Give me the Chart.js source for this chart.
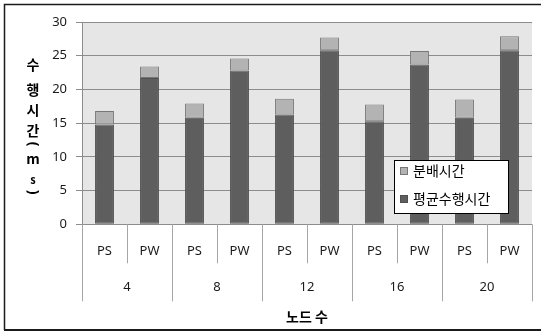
<!DOCTYPE html>
<html><head><meta charset="utf-8">
<script src="https://cdn.jsdelivr.net/npm/chart.js@4/dist/chart.umd.min.js"></script>
<style>html,body{margin:0;padding:0;background:#fff;overflow:hidden}
#wrap{position:absolute;left:0;top:0;width:541px;height:331px}
</style></head><body><div id="wrap"><canvas id="c" width="541" height="331"></canvas></div>
<script>
// ---- data ----
const categories = ['PS','PW','PS','PW','PS','PW','PS','PW','PS','PW'];
const groups = ['4','8','12','16','20'];
const avgExecTime = [14.8,21.7,15.8,22.8,16.3,25.8,15.3,23.7,15.8,25.8];
const distTime = [2.0,1.7,2.1,1.8,2.3,1.9,2.45,2.0,2.7,2.1];
const seriesNames = ['평균수행시간','분배시간'];
const yTitleChars = ['수','행','시','간','(','m','s',')'];
const xTitle = '노드 수';

const FONT = "'Noto Sans', 'DejaVu Sans', sans-serif";
const KFONT = "'Noto Sans CJK KR', 'Noto Sans', sans-serif";
const GRID = '#8c8c8c';
const SEP = '#a6a6a6';

const bgPlugin = {
  id: 'bg',
  beforeDraw(chart) {
    const {ctx, chartArea: a} = chart;
    ctx.save();
    ctx.fillStyle = '#e6e6e6';
    ctx.fillRect(a.left, a.top, a.right - a.left, a.bottom - a.top);
    ctx.restore();
  }
};

const decoPlugin = {
  id: 'deco',
  afterDraw(chart) {
    const {ctx, chartArea: a} = chart;
    const xs = chart.scales.x;
    ctx.save();
    // separators
    const half = (xs.getPixelForValue(1) - xs.getPixelForValue(0)) / 2;
    ctx.strokeStyle = SEP;
    ctx.lineWidth = 1;
    for (let b = 0; b <= categories.length; b++) {
      const xp = b < categories.length ? xs.getPixelForValue(b) - half : xs.getPixelForValue(categories.length - 1) + half;
      const x = Math.round(xp) + 0.5;
      const yEnd = (b % 2 === 0) ? a.bottom + 77 : a.bottom + 39;
      ctx.beginPath();
      ctx.moveTo(x, a.bottom);
      ctx.lineTo(x, yEnd);
      ctx.stroke();
    }
    // group labels
    ctx.fillStyle = '#1a1a1a';
    ctx.font = '13px ' + FONT;
    ctx.textAlign = 'center';
    ctx.textBaseline = 'middle';
    groups.forEach((g, i) => {
      const cx = (xs.getPixelForValue(2 * i) + xs.getPixelForValue(2 * i + 1)) / 2;
      ctx.fillText(g, cx, a.bottom + 63);
    });
    // y title stacked
    ctx.fillStyle = '#000';
    const offs = [0, 25, 45, 66, 79, 94, 115, 127];
    yTitleChars.forEach((ch, i) => {
      const y = 65 + offs[i];
      if (ch === '(' || ch === ')') {
        ctx.save();
        ctx.translate(33, y);
        ctx.rotate(Math.PI / 2);
        ctx.font = 'bold 14px ' + FONT;
        ctx.fillText(ch, 0, 0);
        ctx.restore();
        return;
      }
      ctx.font = (ch === 's' ? 'bold 11px ' : 'bold 14px ') + KFONT;
      ctx.fillText(ch, 33, y);
    });
    // legend
    const lx = a.right - 138, ly = a.top + 138, lw = 114, lh = 53;
    ctx.fillStyle = '#fff';
    ctx.fillRect(lx, ly, lw, lh);
    ctx.strokeStyle = '#000';
    ctx.lineWidth = 1;
    ctx.strokeRect(Math.round(lx) + 0.5, Math.round(ly) + 0.5, lw, lh);
    const order = [1, 0];
    order.forEach((di, k) => {
      const ds = chart.data.datasets[di];
      const cy = ly + 11 + k * 28;
      ctx.fillStyle = ds.backgroundColor;
      ctx.fillRect(lx + 6, cy - 4, 8, 8);
      ctx.strokeStyle = ds.borderColor;
      ctx.strokeRect(lx + 6.5, cy - 3.5, 7, 7);
      ctx.fillStyle = '#000';
      ctx.font = '14px ' + KFONT;
      ctx.textAlign = 'left';
      ctx.fillText(ds.label, lx + 19, cy);
    });
    // frame
    ctx.strokeStyle = '#1a1a1a';
    ctx.lineWidth = 1.5;
    ctx.beginPath();
    ctx.moveTo(4.5, 330); ctx.lineTo(4.5, 4.5); ctx.lineTo(541, 4.5);
    ctx.stroke();
    ctx.lineWidth = 2;
    ctx.beginPath();
    ctx.moveTo(4, 330); ctx.lineTo(541, 330);
    ctx.stroke();
    ctx.restore();
  }
};

new Chart(document.getElementById('c'), {
  type: 'bar',
  data: {
    labels: categories,
    datasets: [
      { label: seriesNames[0], data: avgExecTime, backgroundColor: '#5e5e5e', borderColor: '#4f4f4f', borderWidth: 1, borderSkipped: false },
      { label: seriesNames[1], data: distTime, backgroundColor: '#b3b3b3', borderColor: '#777777', borderWidth: 1, borderSkipped: false }
    ]
  },
  options: {
    responsive: false,
    devicePixelRatio: 1,
    animation: false,
    layout: { padding: { left: 0, right: 9, top: 22, bottom: 4 } },
    datasets: { bar: { barPercentage: 0.42, categoryPercentage: 1 } },
    plugins: { legend: { display: false }, tooltip: { enabled: false } },
    scales: {
      x: {
        stacked: true,
        grid: { display: false, drawTicks: false },
        border: { display: false },
        ticks: { padding: 19, color: '#1a1a1a', font: { family: FONT, size: 13 } },
        title: { display: true, text: xTitle, color: '#000', font: { family: KFONT, size: 14, weight: 'bold' }, padding: { top: 0, bottom: 2 } },
        afterFit(s) { s.height = 102.7; }
      },
      y: {
        stacked: true,
        min: 0, max: 30,
        ticks: { stepSize: 5, padding: 9, color: '#1a1a1a', font: { family: FONT, size: 13 } },
        grid: { color: GRID, tickLength: 6, drawTicks: true },
        border: { color: GRID },
        afterFit(s) { s.width = 82; }
      }
    }
  },
  plugins: [bgPlugin, decoPlugin]
});
</script></body></html>
